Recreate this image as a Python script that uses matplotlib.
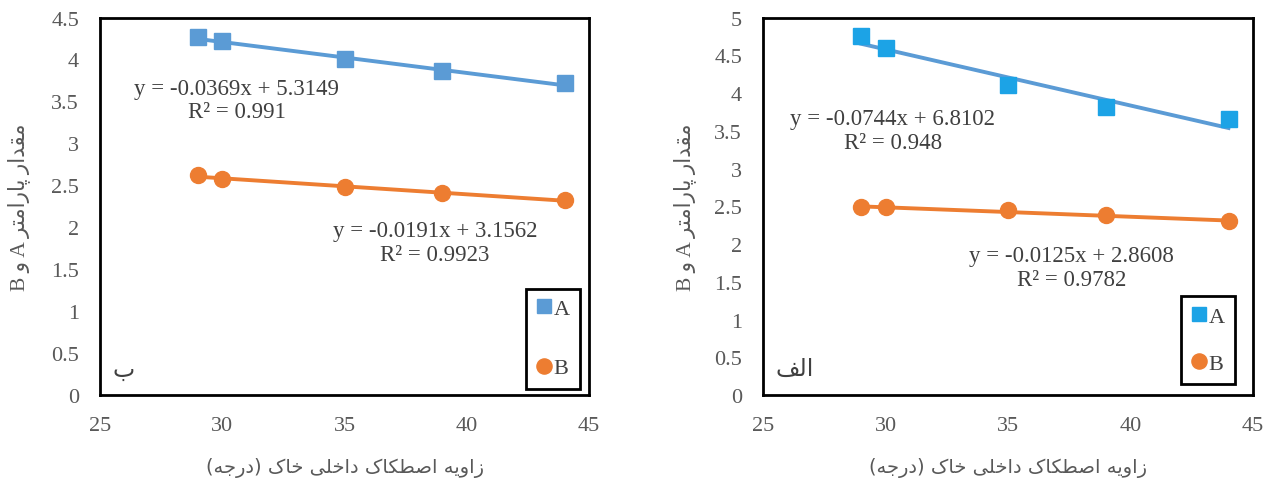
import matplotlib
matplotlib.use("Agg")
import matplotlib.pyplot as plt
import numpy as np

# ---------------- data ----------------
angle = [29, 30, 35, 39, 44]

# panel ب (left)
left_A = [4.27, 4.22, 4.00, 3.86, 3.72]
left_B = [2.62, 2.58, 2.48, 2.41, 2.33]
left_fit_A = (-0.0369, 5.3149)
left_fit_B = (-0.0191, 3.1562)
left_r2_A = "0.991"
left_r2_B = "0.9923"

# panel الف (right)
right_A = [4.76, 4.59, 4.10, 3.81, 3.66]
right_B = [2.49, 2.49, 2.45, 2.39, 2.31]
right_fit_A = (-0.0744, 6.8102)
right_fit_B = (-0.0125, 2.8608)
right_r2_A = "0.948"
right_r2_B = "0.9782"

xlabel_fa = "زاویه اصطکاک داخلی خاک (درجه)"
ylabel_fa = "مقدار پارامتر A و B"
panel_left = "ب"
panel_right = "الف"

# ---------------- simple Persian shaping ----------------
FORMS = {
    'ا': ('\uFE8D', '\uFE8E', None, None),
    'ب': ('\uFE8F', '\uFE90', '\uFE91', '\uFE92'),
    'پ': ('\uFB56', '\uFB57', '\uFB58', '\uFB59'),
    'ت': ('\uFE95', '\uFE96', '\uFE97', '\uFE98'),
    'ج': ('\uFE9D', '\uFE9E', '\uFE9F', '\uFEA0'),
    'خ': ('\uFEA5', '\uFEA6', '\uFEA7', '\uFEA8'),
    'د': ('\uFEA9', '\uFEAA', None, None),
    'ر': ('\uFEAD', '\uFEAE', None, None),
    'ز': ('\uFEAF', '\uFEB0', None, None),
    'ص': ('\uFEB9', '\uFEBA', '\uFEBB', '\uFEBC'),
    'ط': ('\uFEC1', '\uFEC2', '\uFEC3', '\uFEC4'),
    'ف': ('\uFED1', '\uFED2', '\uFED3', '\uFED4'),
    'ق': ('\uFED5', '\uFED6', '\uFED7', '\uFED8'),
    'ک': ('\uFB8E', '\uFB8F', '\uFB90', '\uFB91'),
    'ل': ('\uFEDD', '\uFEDE', '\uFEDF', '\uFEE0'),
    'م': ('\uFEE1', '\uFEE2', '\uFEE3', '\uFEE4'),
    'ه': ('\uFEE9', '\uFEEA', '\uFEEB', '\uFEEC'),
    'و': ('\uFEED', '\uFEEE', None, None),
    'ی': ('\uFBFC', '\uFBFD', '\uFBFE', '\uFBFF'),
}


def joins_left(ch):
    return ch in FORMS and FORMS[ch][2] is not None


def shape(text):
    out = []
    n = len(text)
    for i, ch in enumerate(text):
        if ch not in FORMS:
            out.append(ch)
            continue
        prev_joins = i > 0 and joins_left(text[i - 1])
        next_ar = i + 1 < n and text[i + 1] in FORMS
        can_left = joins_left(ch)
        iso, fin, ini, med = FORMS[ch]
        if prev_joins and next_ar and can_left:
            out.append(med)
        elif prev_joins:
            out.append(fin)
        elif next_ar and can_left:
            out.append(ini)
        else:
            out.append(iso)
    mirror = {'(': ')', ')': '('}
    return ''.join(mirror.get(c, c) for c in reversed(out))


# ---------------- style ----------------
plt.rcParams['font.family'] = ['Liberation Serif', 'DejaVu Sans']
GRAY = '#595959'
TXT = '#404040'
BLUE = '#5B9BD5'
CYAN = '#1CA3E6'
ORANGE = '#ED7D31'

fig = plt.figure(figsize=(12.77, 4.81), dpi=100)
W, H = 1277, 481


def make_axes(x0, x1, y0, y1):
    return fig.add_axes([x0 / W, 1 - y1 / H, (x1 - x0) / W, (y1 - y0) / H])


def draw_panel(ax, A, B, fitA, fitB, r2A, r2B, ymax, markerA_color,
               posA, posB, panel_label, panel_pos, leg_box, leg_space,
               ylab_x):
    xs = np.array([angle[0], angle[-1]])
    ax.plot(xs, fitA[0] * xs + fitA[1], color=BLUE, lw=2.8, zorder=2)
    ax.plot(xs, fitB[0] * xs + fitB[1], color=ORANGE, lw=2.8, zorder=2)
    ax.plot(angle, A, ls='none', marker='s', ms=11, color=markerA_color,
            mec=markerA_color, label='A', zorder=3)
    ax.plot(angle, B, ls='none', marker='o', ms=11.5, color=ORANGE,
            mec=ORANGE, label='B', zorder=3)
    ax.set_xlim(25, 45)
    ax.set_ylim(0, ymax)
    ax.set_xticks([25, 30, 35, 40, 45])
    yt = np.arange(0, ymax + 0.01, 0.5)
    ax.set_yticks(yt)
    ax.set_yticklabels([('%g' % v) for v in yt])
    ax.tick_params(length=0, labelsize=16, labelcolor=GRAY)
    ax.tick_params(axis='x', pad=15)
    ax.tick_params(axis='y', pad=15)
    for s in ax.spines.values():
        s.set_linewidth(2)
        s.set_color('black')
    eqA = "y = %.4fx + %.4f\nR² = %s" % (fitA[0], fitA[1], r2A)
    eqB = "y = %.4fx + %.4f\nR² = %s" % (fitB[0], fitB[1], r2B)
    ax.text(posA[0], posA[1], eqA, transform=ax.transAxes, ha='center',
            va='center', fontsize=16.5, color=TXT, linespacing=1.15)
    ax.text(posB[0], posB[1], eqB, transform=ax.transAxes, ha='center',
            va='center', fontsize=16.5, color=TXT, linespacing=1.15)
    ax.text(panel_pos[0], panel_pos[1], shape(panel_label),
            transform=ax.transAxes, ha='left', va='center', fontsize=17,
            color=TXT, family='DejaVu Sans')
    ax.set_xlabel(shape(xlabel_fa), fontsize=14, color=GRAY,
                  family='DejaVu Sans', va='center')
    ax.xaxis.set_label_coords(0.5, -0.19)
    ax.set_ylabel(shape(ylabel_fa), fontsize=15.5, color=GRAY, va='center')
    ax.yaxis.set_label_coords(ylab_x, 0.50)
    bx0, by0, bx1, by1 = leg_box
    leg = ax.legend(loc='center', bbox_to_anchor=((bx0 + bx1) / 2 / W,
                                                  1 - (by0 + by1) / 2 / H),
                    bbox_transform=fig.transFigure, fontsize=16,
                    handlelength=0.7, handletextpad=0.1,
                    labelspacing=leg_space, borderpad=0.45, borderaxespad=0,
                    fancybox=False, framealpha=1, edgecolor='black',
                    markerscale=0.95)
    leg.get_frame().set_linewidth(2)
    for t in leg.get_texts():
        t.set_color(TXT)


axL = make_axes(100, 589, 18.5, 396)
draw_panel(axL, left_A, left_B, left_fit_A, left_fit_B, left_r2_A, left_r2_B,
           4.5, BLUE, (0.280, 0.781), (0.685, 0.404), panel_left,
           (0.025, 0.069), (525, 291, 581, 388), 1.75, -0.166)

axR = make_axes(763, 1253, 18.5, 396)
draw_panel(axR, right_A, right_B, right_fit_A, right_fit_B, right_r2_A,
           right_r2_B, 5, CYAN, (0.265, 0.701), (0.629, 0.338), panel_right,
           (0.025, 0.071), (1183, 300, 1233, 382), 1.2, -0.161)

fig.savefig('out.png', dpi=100)
